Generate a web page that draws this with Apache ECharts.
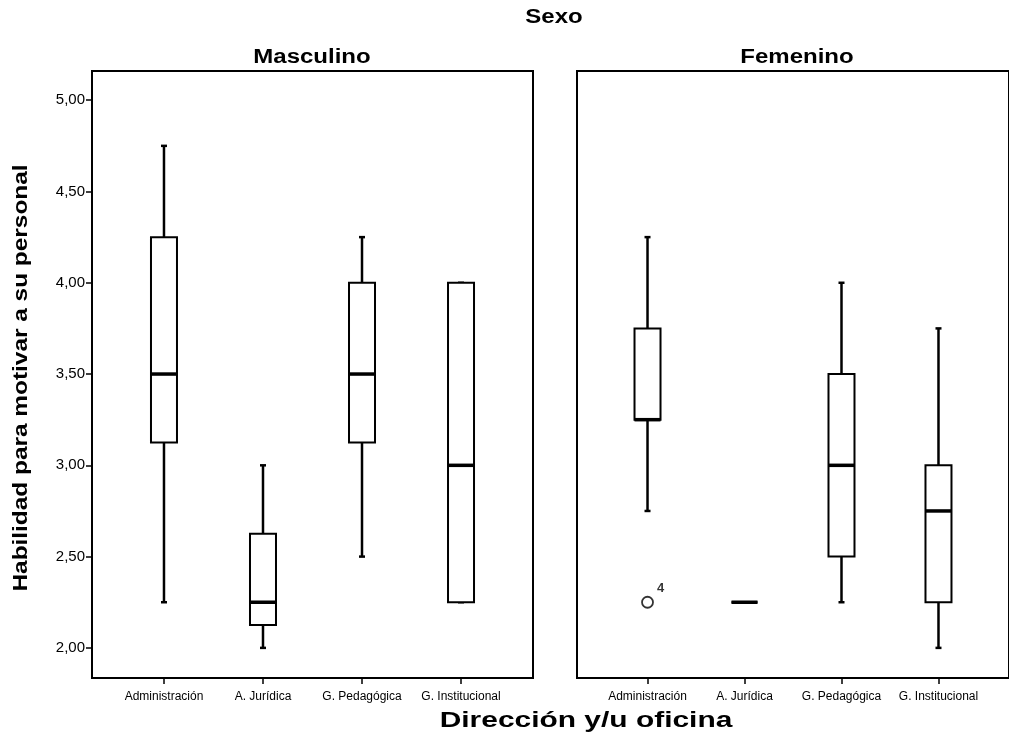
<!DOCTYPE html>
<html>
<head>
<meta charset="utf-8">
<script src="https://cdn.jsdelivr.net/npm/echarts@6/dist/echarts.min.js"></script>
<style>
  html, body { margin: 0; padding: 0; background: #fff; }
  #chart { width: 1009px; height: 738px; }
</style>
</head>
<body>
<div id="chart"></div>
<script>
// categorias del eje X (iguales en los dos paneles)
var categories = ['Administración', 'A. Jurídica', 'G. Pedagógica', 'G. Institucional'];
var yTicks = [2.0, 2.5, 3.0, 3.5, 4.0, 4.5, 5.0];

// Masculino: min, Q1, mediana, Q3, max
var mascMin = [2.25, 2.00, 2.50, 2.25];
var mascQ1  = [3.125, 2.125, 3.125, 2.25];
var mascMed = [3.50, 2.25, 3.50, 3.00];
var mascQ3  = [4.25, 2.625, 4.00, 4.00];
var mascMax = [4.75, 3.00, 4.25, 4.00];

// Femenino
var femMin = [2.75, 2.25, 2.25, 2.00];
var femQ1  = [3.25, 2.25, 2.50, 2.25];
var femMed = [3.25, 2.25, 3.00, 2.75];
var femQ3  = [3.75, 2.25, 3.50, 3.00];
var femMax = [4.25, 2.25, 4.00, 3.75];

// atipicos (panel femenino): [categoria, valor], etiqueta = caso
var femOutliers = [[0, 2.25]];
var femOutlierIds = ['4'];

var FONT = 'Liberation Sans, Arial, sans-serif';

function boxData(mn, q1, md, q3, mx) {
    return categories.map(function (c, i) {
        return [i, mn[i], q1[i], md[i], q3[i], mx[i]];
    });
}

function renderBox(params, api) {
    var i = api.value(0);
    var lo = api.coord([i, api.value(1)]);
    var q1 = api.coord([i, api.value(2)]);
    var md = api.coord([i, api.value(3)]);
    var q3 = api.coord([i, api.value(4)]);
    var hi = api.coord([i, api.value(5)]);
    var x = lo[0], w = 26, cap = 3;
    var ln = { stroke: '#000', lineWidth: 2.5 };
    return {
        type: 'group',
        children: [
            { type: 'line', shape: { x1: x, y1: hi[1], x2: x, y2: q3[1] }, style: ln },
            { type: 'line', shape: { x1: x, y1: q1[1], x2: x, y2: lo[1] }, style: ln },
            { type: 'line', shape: { x1: x - cap, y1: hi[1], x2: x + cap, y2: hi[1] }, style: ln },
            { type: 'line', shape: { x1: x - cap, y1: lo[1], x2: x + cap, y2: lo[1] }, style: ln },
            { type: 'rect', shape: { x: x - w / 2, y: q3[1], width: w, height: q1[1] - q3[1] },
              style: { fill: '#fff', stroke: '#000', lineWidth: 2 } },
            { type: 'line', shape: { x1: x - w / 2, y1: md[1], x2: x + w / 2, y2: md[1] },
              style: { stroke: '#000', lineWidth: 3.5 } }
        ]
    };
}

function xAxisFor(gi) {
    return {
        type: 'value', gridIndex: gi, min: -0.727, max: 3.727,
        axisLine: { show: false, onZero: false },
        splitLine: { show: false },
        axisTick: { show: true, customValues: [0, 1, 2, 3], length: 6, lineStyle: { color: '#000', width: 1.5 } },
        axisLabel: {
            customValues: [0, 1, 2, 3], margin: 13, color: '#000', fontSize: 12, fontFamily: FONT,
            formatter: function (v) { return categories[Math.round(v)]; }
        }
    };
}

function yAxisFor(gi, withLabels) {
    return {
        type: 'value', gridIndex: gi, min: 1.835, max: 5.16,
        axisLine: { show: false, onZero: false },
        splitLine: { show: false },
        axisTick: { show: withLabels, customValues: yTicks, length: 6, lineStyle: { color: '#000', width: 1.5 } },
        axisLabel: {
            show: withLabels, customValues: yTicks, margin: 7, color: '#000', fontSize: 15, fontFamily: FONT,
            formatter: function (v) { return v.toFixed(2).replace('.', ','); }
        }
    };
}

// texto en negrita algo ensanchado, como en el original
function wideText(txt, x, y, size, sx, rot) {
    return {
        type: 'text', x: x, y: y, rotation: rot || 0, scaleX: sx, silent: true,
        style: {
            text: txt, font: 'bold ' + size + 'px ' + FONT, fill: '#000',
            align: 'center', verticalAlign: 'middle', textAlign: 'center', textVerticalAlign: 'middle'
        }
    };
}

var chart = echarts.init(document.getElementById('chart'));

var option = {
    backgroundColor: '#fff',
    animation: false,
    graphic: [
        wideText('Sexo', 554, 17, 20, 1.2),
        wideText('Masculino', 312, 57, 20, 1.2),
        wideText('Femenino', 797, 57, 20, 1.2),
        wideText('Dirección y/u oficina', 586, 721, 22, 1.36),
        wideText('Habilidad para motivar a su personal', 21, 378, 20, 1.22, Math.PI / 2)
    ],
    grid: [
        { left: 92, top: 71, width: 441, height: 607, show: true, borderColor: '#000', borderWidth: 2, backgroundColor: '#fff' },
        { left: 577, top: 71, width: 441, height: 607, show: true, borderColor: '#000', borderWidth: 2, backgroundColor: '#fff' }
    ],
    xAxis: [xAxisFor(0), xAxisFor(1)],
    yAxis: [yAxisFor(0, true), yAxisFor(1, false)],
    series: [
        {
            name: 'Masculino', type: 'custom', xAxisIndex: 0, yAxisIndex: 0,
            renderItem: renderBox,
            encode: { x: 0, y: [1, 2, 3, 4, 5] },
            data: boxData(mascMin, mascQ1, mascMed, mascQ3, mascMax)
        },
        {
            name: 'Femenino', type: 'custom', xAxisIndex: 1, yAxisIndex: 1,
            renderItem: renderBox,
            encode: { x: 0, y: [1, 2, 3, 4, 5] },
            data: boxData(femMin, femQ1, femMed, femQ3, femMax)
        },
        {
            name: 'Atípicos', type: 'scatter', xAxisIndex: 1, yAxisIndex: 1,
            symbol: 'circle', symbolSize: 11,
            itemStyle: { color: '#fff', borderColor: '#000', borderWidth: 1.8 },
            label: {
                show: true, position: [16, -14], color: '#000', fontSize: 13, fontWeight: 'bold', fontFamily: FONT,
                formatter: function (p) { return femOutlierIds[p.dataIndex]; }
            },
            data: femOutliers
        }
    ]
};

chart.setOption(option);
</script>
</body>
</html>
